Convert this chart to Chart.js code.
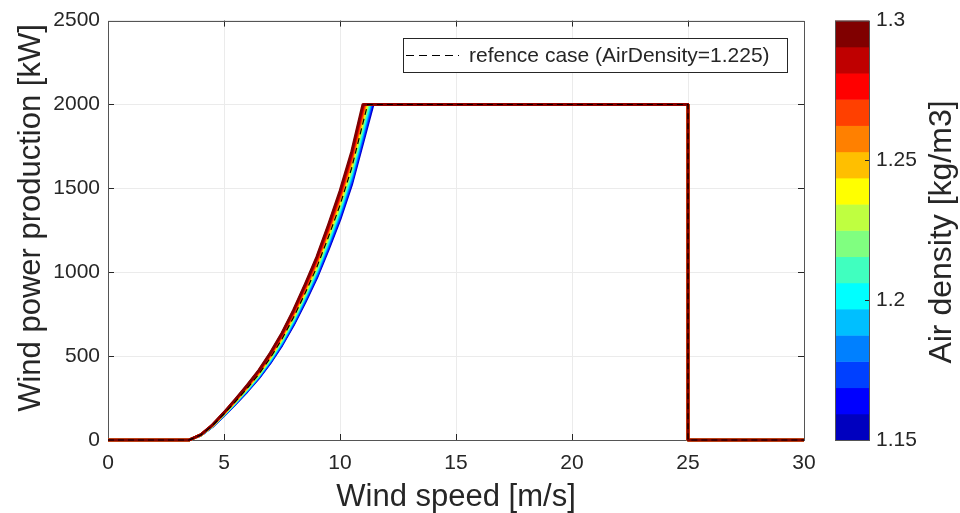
<!DOCTYPE html>
<html><head><meta charset="utf-8">
<script src="https://cdn.jsdelivr.net/npm/chart.js@4.4.1/dist/chart.umd.min.js"></script>
<style>html,body{margin:0;padding:0;background:#fff;}#wrap{width:960px;height:513px;}</style>
</head><body><div id="wrap"><canvas id="c" width="960" height="513"></canvas></div>
<script>
// ---- data ----
const densityLevels = [1.15,1.16,1.17,1.18,1.19,1.20,1.21,1.22,1.23,1.24,1.25,1.26,1.27,1.28,1.29,1.30];
const levelColors = ['#0000BF','#0000FF','#0040FF','#0080FF','#00BFFF','#00FFFF','#40FFBF','#80FF80',
                     '#BFFF40','#FFFF00','#FFBF00','#FF8000','#FF4000','#FF0000','#BF0000','#800000'];
const colorbarTicks = [1.15, 1.2, 1.25, 1.3];
const windRamp = [0, 3.5, 4, 4.5, 5, 5.5, 6, 6.5, 7, 7.5, 8, 8.5, 9, 9.5, 10, 10.5];
const windTail = [25, 25, 30];
const ratedSpeed = [11.43,11.39,11.36,11.33,11.30,11.27,11.24,11.20,11.18,11.15,11.12,11.09,11.06,11.03,11.01,10.98];
const tailPower = [2000, 2000, 0, 0];
const power115 = [0,0,28,80,146,216,289,368,460,565,686,822,967,1136,1314,1521];
const power116 = [0,0,28,80,147,218,292,371,464,570,692,830,975,1146,1326,1534];
const power117 = [0,0,29,81,148,220,294,374,468,575,698,837,984,1156,1337,1547];
const power118 = [0,0,29,82,149,222,297,378,472,580,704,844,992,1166,1349,1560];
const power119 = [0,0,29,83,151,223,299,381,476,585,710,851,1001,1175,1360,1574];
const power120 = [0,0,29,83,152,225,302,384,480,590,716,858,1009,1185,1371,1587];
const power121 = [0,0,30,84,153,227,304,387,484,595,722,865,1017,1195,1383,1600];
const power122 = [0,0,30,85,154,229,307,390,488,600,728,872,1026,1205,1394,1613];
const power123 = [0,0,30,85,156,231,309,394,492,604,734,880,1034,1215,1406,1627];
const power124 = [0,0,30,86,157,233,312,397,496,609,740,887,1043,1225,1417,1640];
const power125 = [0,0,31,87,158,235,314,400,500,614,746,894,1051,1235,1429,1653];
const power126 = [0,0,31,87,159,237,317,403,504,619,752,901,1059,1245,1440,1666];
const power127 = [0,0,31,88,161,238,319,406,508,624,758,908,1068,1254,1451,1679];
const power128 = [0,0,31,89,162,240,322,410,512,629,764,915,1076,1264,1463,1693];
const power129 = [0,0,32,90,163,242,324,413,516,634,770,922,1085,1274,1474,1706];
const power130 = [0,0,32,90,164,244,327,416,520,639,776,930,1093,1284,1486,1719];
const referenceRated = 11.19;
const referencePower = [0,0,30,85,155,230,308,392,490,602,731,876,1030,1210,1400,1620];
const legendLabel = 'refence case (AirDensity=1.225)';
const xTitle = 'Wind speed [m/s]';
const yTitle = 'Wind power production [kW]';
const cbTitle = 'Air density [kg/m3]';

const powerSeries = [power115,power116,power117,power118,power119,power120,power121,power122,
                     power123,power124,power125,power126,power127,power128,power129,power130];

function pts(rated, ramp){
  const xs = windRamp.concat([rated]).concat(windTail);
  const ys = ramp.concat(tailPower);
  return xs.map((x,i)=>({x:x, y:ys[i]}));
}

const FONT = "'Liberation Sans', Arial, Helvetica, sans-serif";
const TXT = '#262626';

const datasets = [];
datasets.push({label:legendLabel, data:pts(referenceRated, referencePower), borderColor:'#000000',
  borderWidth:1.2, borderDash:[6,4], pointRadius:0, showLine:true, fill:false, tension:0, clip:false});
for (let i = densityLevels.length-1; i >= 0; i--) {
  datasets.push({label:String(densityLevels[i]), data:pts(ratedSpeed[i], powerSeries[i]),
    borderColor:levelColors[i], borderWidth:2.6, pointRadius:0, showLine:true, fill:false, tension:0,
    clip:false, borderJoinStyle:'round'});
}

const decor = {
  id:'decor',
  beforeDraw(chart){
    const c = chart.ctx; c.save(); c.fillStyle='#fff'; c.fillRect(0,0,chart.width,chart.height); c.restore();
  },
  beforeDatasetsDraw(chart){
    const c = chart.ctx, a = chart.chartArea, xs = chart.scales.x, ys = chart.scales.y;
    c.save();
    c.strokeStyle = '#262626'; c.lineWidth = 1;
    for (let v = 5; v < 30; v += 5) {
      const px = Math.round(xs.getPixelForValue(v)) + 0.5;
      c.beginPath(); c.moveTo(px, a.bottom); c.lineTo(px, a.bottom-6); c.moveTo(px, a.top); c.lineTo(px, a.top+6); c.stroke();
    }
    for (let v = 500; v < 2500; v += 500) {
      const py = Math.round(ys.getPixelForValue(v)) + 0.5;
      c.beginPath(); c.moveTo(a.left, py); c.lineTo(a.left+6, py); c.moveTo(a.right, py); c.lineTo(a.right-6, py); c.stroke();
    }
    c.strokeStyle = '#555';
    c.strokeRect(Math.round(a.left)+0.5, Math.round(a.top)+0.5, Math.round(a.right-a.left), Math.round(a.bottom-a.top));
    c.restore();
  },
  afterDraw(chart){
    const c = chart.ctx, a = chart.chartArea;
    c.save();
    // legend box
    const lx = 403, ly = 38, lw = 384, lh = 34;
    c.fillStyle = '#fff'; c.fillRect(lx, ly, lw, lh);
    c.strokeStyle = '#262626'; c.lineWidth = 1; c.strokeRect(lx+0.5, ly+0.5, lw, lh);
    c.strokeStyle = '#000'; c.lineWidth = 1.2; c.setLineDash([8,5]);
    c.beginPath(); c.moveTo(406, ly+lh/2+0.5); c.lineTo(459, ly+lh/2+0.5); c.stroke();
    c.setLineDash([]);
    c.fillStyle = TXT; c.font = '21px ' + FONT; c.textBaseline = 'middle'; c.textAlign = 'left';
    c.fillText(legendLabel, 469, ly+lh/2+1);
    // axis titles
    c.font = '31px ' + FONT; c.textAlign = 'center'; c.textBaseline = 'middle';
    c.fillText(xTitle, (a.left+a.right)/2, 497);
    c.save(); c.translate(31, 218); c.rotate(-Math.PI/2); c.fillText(yTitle, 0, 0); c.restore();
    // colorbar
    const cx = 835, cw = 34, ct = a.top, cb = a.bottom;
    const n = levelColors.length, bh = (cb-ct)/n;
    for (let i = 0; i < n; i++) {
      c.fillStyle = levelColors[i];
      c.fillRect(cx, cb - (i+1)*bh, cw, bh+0.5);
    }
    c.strokeStyle = '#555'; c.lineWidth = 1; c.strokeRect(cx+0.5, ct+0.5, cw, cb-ct);
    const lo = colorbarTicks[0], hi = colorbarTicks[colorbarTicks.length-1];
    c.font = '21px ' + FONT; c.textAlign = 'left'; c.fillStyle = TXT; c.strokeStyle = '#262626';
    colorbarTicks.forEach(t => {
      const py = cb - (t-lo)/(hi-lo)*(cb-ct);
      if (t > lo && t < hi) { c.beginPath(); c.moveTo(cx+cw, Math.round(py)+0.5); c.lineTo(cx+cw-4, Math.round(py)+0.5); c.stroke(); }
      c.fillText(String(t), 876, py);
    });
    c.font = '32px ' + FONT; c.textAlign = 'center';
    c.save(); c.translate(942, 232); c.rotate(-Math.PI/2); c.fillText(cbTitle, 0, 0); c.restore();
    c.restore();
  }
};

new Chart(document.getElementById('c'), {
  type:'scatter',
  data:{datasets:datasets},
  options:{
    responsive:false, animation:false, devicePixelRatio:1,
    layout:{padding:{left:0, right:156, top:20, bottom:0}},
    plugins:{legend:{display:false}, tooltip:{enabled:false}},
    scales:{
      x:{type:'linear', min:0, max:30,
         ticks:{stepSize:5, color:TXT, font:{family:FONT, size:21}, padding:11, maxRotation:0,
                callback:(v)=>String(v)},
         grid:{color:'#ebebeb', lineWidth:1, drawTicks:false}, border:{display:false},
         afterFit(s){ s.height = 73; }},
      y:{type:'linear', min:0, max:2500,
         ticks:{stepSize:500, color:TXT, font:{family:FONT, size:21}, padding:8,
                callback:(v)=>String(v)},
         grid:{color:'#ebebeb', lineWidth:1, drawTicks:false}, border:{display:false},
         afterFit(s){ s.width = 108; }}
    }
  },
  plugins:[decor]
});
</script></body></html>
